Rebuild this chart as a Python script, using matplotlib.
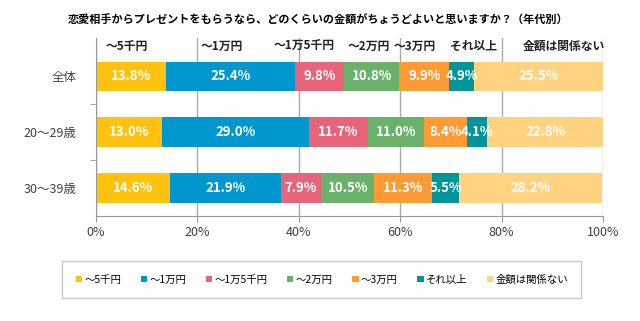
import matplotlib
matplotlib.use("Agg")
import matplotlib.pyplot as plt
import numpy as np

plt.rcParams['font.family'] = ['Noto Sans CJK JP', 'DejaVu Sans']

title = "恋愛相手からプレゼントをもらうなら、どのくらいの金額がちょうどよいと思いますか？（年代別）"
groups = ["全体", "20～29歳", "30～39歳"]
series = ["～5千円", "～1万円", "～1万5千円", "～2万円", "～3万円", "それ以上", "金額は関係ない"]
values = [
    [13.8, 13.0, 14.6],
    [25.4, 29.0, 21.9],
    [9.8, 11.7, 7.9],
    [10.8, 11.0, 10.5],
    [9.9, 8.4, 11.3],
    [4.9, 4.1, 5.5],
    [25.5, 22.8, 28.2],
]
colors = ["#FFC20E", "#0096CE", "#E8647A", "#6AB26C", "#FF9A35", "#00959A", "#FFD37F"]
# x position (in %) of the header labels above the bars
header_x = [6.1, 24.7, 41.0, 53.8, 62.9, 74.4, 92.3]

fig = plt.figure(figsize=(6.4, 3.21), dpi=100)
ax = fig.add_axes([0.15, 0.327, 0.792, 0.555])

y = np.arange(len(groups))
left = np.zeros(len(groups))
for name, vals, col in zip(series, values, colors):
    vals = np.array(vals)
    ax.barh(y, vals, left=left, height=0.53, color=col, label=name, zorder=2)
    for yi, v, l in zip(y, vals, left):
        ax.text(l + v / 2, yi, f"{v:.1f}%", ha="center", va="center",
                color="white", fontsize=9.5, fontweight="bold", zorder=3)
    left += vals

ax.set_xlim(0, 100)
ax.set_ylim(2.5, -0.69)
ax.set_xticks(np.arange(0, 101, 20))
ax.set_xticklabels([f"{t}%" for t in range(0, 101, 20)], fontsize=9, color="#404040")
ax.set_yticks(y)
ax.set_yticklabels(groups, fontsize=9, color="#404040")
ax.set_yticks([0.5, 1.5], minor=True)
ax.tick_params(axis="y", which="major", length=0, pad=14)
ax.tick_params(axis="y", which="minor", length=4, color="#999999")
ax.tick_params(axis="x", length=4, color="#999999")
ax.grid(axis="x", color="#AAAAAA", linewidth=1, zorder=0)
for s in ["top", "right"]:
    ax.spines[s].set_visible(False)
for s in ["left", "bottom"]:
    ax.spines[s].set_color("#999999")

for name, hx in zip(series, header_x):
    ax.text(hx, -0.54, name, ha="center", va="center", fontsize=8.5,
            fontweight="bold", color="#222222")

fig.text(0.497, 0.938, title, ha="center", va="center", fontsize=8, fontweight="bold")

leg = fig.legend(loc="center", bbox_to_anchor=(0.503, 0.129), ncol=7, fontsize=7.5,
                 frameon=True, fancybox=False, edgecolor="#BBBBBB", handlelength=0.6,
                 handleheight=0.6, handletextpad=0.2, columnspacing=1.9, borderpad=1.3)
leg.get_frame().set_linewidth(1)

fig.savefig("out.png", dpi=100)
